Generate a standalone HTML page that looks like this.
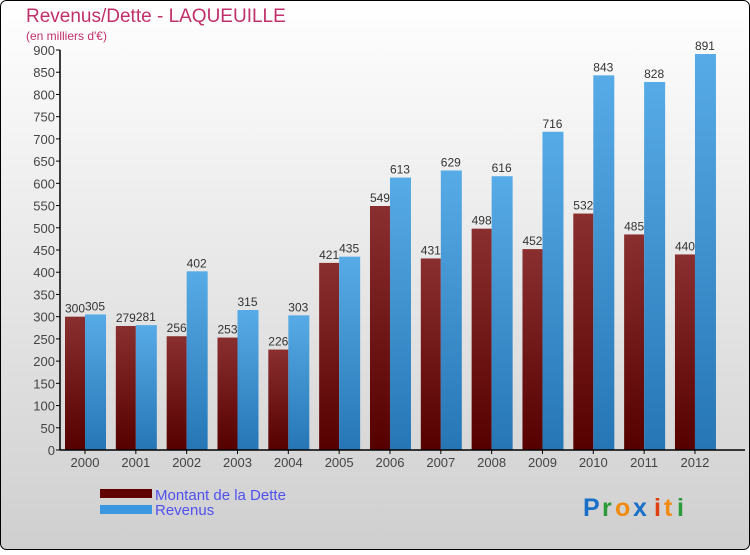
<!DOCTYPE html>
<html><head><meta charset="utf-8"><style>
body{margin:0}
svg text{font-family:"Liberation Sans",sans-serif}
</style></head><body>
<svg width="750" height="550" xmlns="http://www.w3.org/2000/svg">
<defs>
<linearGradient id="bg" x1="0" y1="0" x2="0" y2="1"><stop offset="0" stop-color="#ffffff"/><stop offset="1" stop-color="#cfcfcf"/></linearGradient>
<linearGradient id="gd" x1="0" y1="0" x2="0" y2="1"><stop offset="0" stop-color="#8a2f2f"/><stop offset="1" stop-color="#560000"/></linearGradient>
<linearGradient id="gr" x1="0" y1="0" x2="0" y2="1"><stop offset="0" stop-color="#57abe6"/><stop offset="1" stop-color="#2676b5"/></linearGradient>
</defs>
<rect x="0.5" y="0.5" width="749" height="549" rx="6" fill="url(#bg)" stroke="#000"/>
<text x="26" y="22" font-size="19" fill="#c0306a">Revenus/Dette - LAQUEUILLE</text>
<text x="26" y="40" font-size="12" fill="#c0306a">(en milliers d'€)</text>
<g id="plot"></g>
<rect x="100" y="489" width="52" height="9" fill="#600000"/>
<rect x="100" y="505" width="52" height="9" fill="#3a97e0"/>
<text x="155" y="500" font-size="15" fill="#5050f0">Montant de la Dette</text>
<text x="155" y="515" font-size="15" fill="#5050f0">Revenus</text>
<g font-size="25" font-weight="bold">
<text x="583" y="516" fill="#1a70c8">P</text><text x="602" y="516" fill="#2a9a3a">r</text><text x="615" y="516" fill="#f08a10">o</text><text x="633" y="516" fill="#1a70c8">x</text><text x="654" y="516" fill="#e04010">i</text><text x="664" y="516" fill="#f08a10">t</text><text x="677" y="516" fill="#2a9a3a">i</text>
</g>
</svg>
<script>
const years=["2000","2001","2002","2003","2004","2005","2006","2007","2008","2009","2010","2011","2012"];
const dette=[300,279,256,253,226,421,549,431,498,452,532,485,440];
const revenus=[305,281,402,315,303,435,613,629,616,716,843,828,891];
const yTicks=[0,50,100,150,200,250,300,350,400,450,500,550,600,650,700,750,800,850,900];
const NS="http://www.w3.org/2000/svg";
const g=document.getElementById('plot');
const y0=450,yTop=50,yMax=900,xL=60,step=50.83;
const Y=v=>y0-(v/yMax)*(y0-yTop);
const XC=i=>85+i*step;
function el(t,a,txt){const e=document.createElementNS(NS,t);for(const k in a)e.setAttribute(k,a[k]);if(txt!=null)e.textContent=txt;g.appendChild(e);return e;}
yTicks.forEach(v=>{
const t=el('line',{x1:xL-4,x2:xL,y1:Y(v),y2:Y(v),stroke:'#000'});


const l=el('text',{x:xL-5,y:Y(v)+5,'font-size':13,fill:'#444','text-anchor':'end'},v);


});
years.forEach((yr,i)=>{
const c=XC(i);
const b1=el('rect',{x:c-20,y:Y(dette[i]),width:20,height:y0-Y(dette[i]),fill:'url(#gd)'});


const b2=el('rect',{x:c,y:Y(revenus[i]),width:21,height:y0-Y(revenus[i]),fill:'url(#gr)'});


const v1=el('text',{x:c-10,y:Y(dette[i])-4,'font-size':12,fill:'#333','text-anchor':'middle'},dette[i]);


const v2=el('text',{x:c+10,y:Y(revenus[i])-4,'font-size':12,fill:'#333','text-anchor':'middle'},revenus[i]);


const tk=el('line',{x1:c,x2:c,y1:y0,y2:y0+4,stroke:'#000'});


const xl=el('text',{x:c,y:y0+17,'font-size':13,fill:'#444','text-anchor':'middle'},yr);


});
const ya=el('line',{x1:xL,x2:xL,y1:yTop,y2:y0,stroke:'#000','stroke-width':1.5});


const xa=el('line',{x1:xL,x2:745,y1:y0,y2:y0,stroke:'#000','stroke-width':1.5});


</script>
</body></html>
